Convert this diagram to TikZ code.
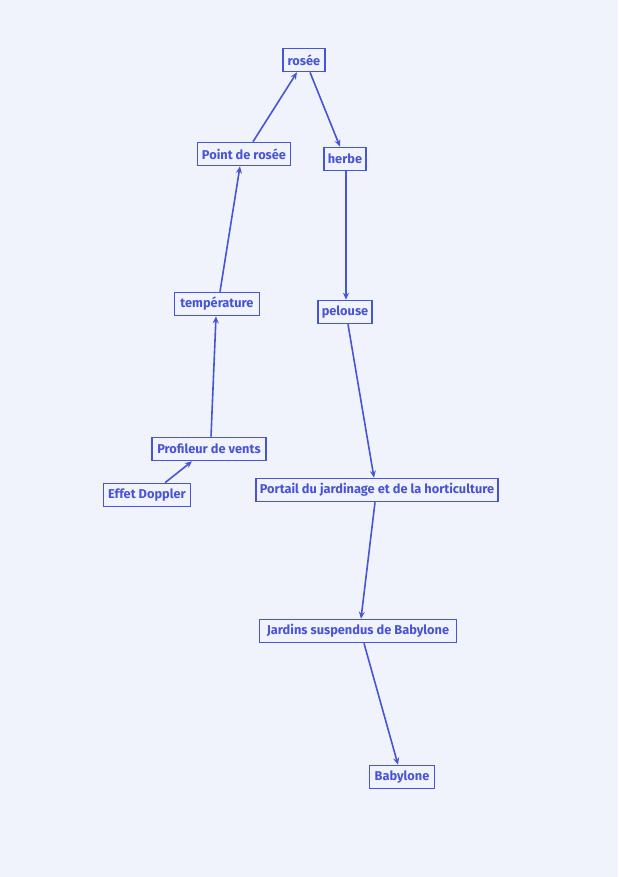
\documentclass[tikz,border=0pt]{standalone}
\usepackage{fontspec}
\setmainfont{Fira Sans}
\usetikzlibrary{arrows.meta}
\definecolor{inkblue}{RGB}{72,84,214}
\definecolor{paper}{RGB}{241,243,252}
\tikzset{
  concept/.style={draw=inkblue, text=inkblue, line width=1.6pt, inner sep=1.5pt,
    font=\fontsize{12.8}{14}\selectfont\bfseries, minimum height=23pt},
  link/.style={draw=inkblue, line width=1.6pt, -{Stealth[length=7pt,width=6pt]}},
}
\begin{document}
\begin{tikzpicture}[x=1pt, y=-1pt]
    % paper
    \fill[paper] (0,0) rectangle (618,877);
    \useasboundingbox (0,0) rectangle (618,877);
    % define nodes
    \node[concept, minimum width=42pt] (rosee) at (304,60) {rosée};
    \node[concept, minimum width=93pt] (point_rosee) at (244,154) {Point de rosée};
    \node[concept, minimum width=42pt] (herbe) at (345,159) {herbe};
    \node[concept, minimum width=85pt] (temperature) at (217,304) {température};
    \node[concept, minimum width=54pt] (pelouse) at (345,312) {pelouse};
    \node[concept, minimum width=114pt] (profileur) at (209,449) {Profileur de vents};
    \node[concept, minimum width=87pt] (doppler) at (147,495) {Effet Doppler};
    \node[concept, minimum width=242pt] (portail) at (377,490) {Portail du jardinage et de la horticulture};
    \node[concept, minimum width=197pt] (jardins) at (358,631) {Jardins suspendus de Babylone};
    \node[concept, minimum width=65pt] (babylone) at (402,777) {Babylone};
    % draw links
    \draw[link] ([xshift=18pt]doppler.north) -- ([xshift=-17pt]profileur.south);
    \draw[link] ([xshift=2pt]profileur.north) -- ([xshift=-1pt]temperature.south);
    \draw[link] ([xshift=3pt]temperature.north) -- ([xshift=-4pt]point_rosee.south);
    \draw[link] ([xshift=9pt]point_rosee.north) -- ([xshift=-7pt]rosee.south);
    \draw[link] ([xshift=6pt]rosee.south) -- ([xshift=-5pt]herbe.north);
    \draw[link] ([xshift=1pt]herbe.south) -- ([xshift=1pt]pelouse.north);
    \draw[link] ([xshift=3pt]pelouse.south) -- ([xshift=-3pt]portail.north);
    \draw[link] ([xshift=-2pt]portail.south) -- ([xshift=3pt]jardins.north);
    \draw[link] ([xshift=6pt]jardins.south) -- ([xshift=-4pt]babylone.north);
\end{tikzpicture}
\end{document}
